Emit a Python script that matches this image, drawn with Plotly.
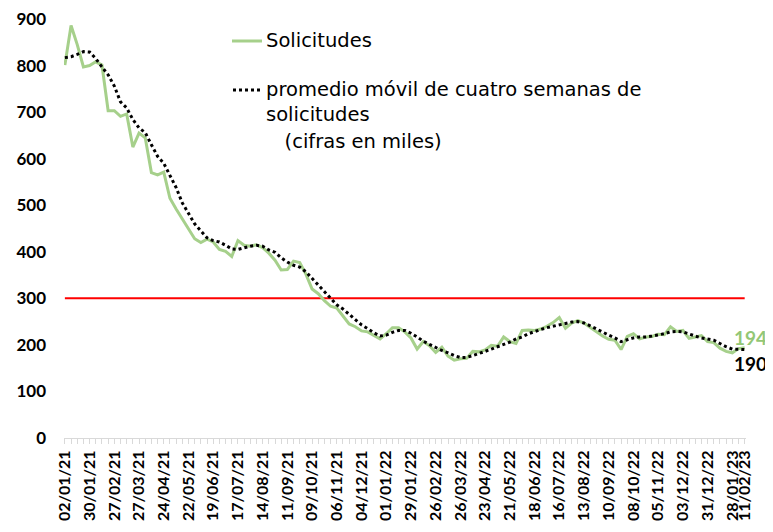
import pandas as pd
import plotly.graph_objects as go

# ---- data (thousands of weekly claims) ----
SOLICITUDES = [801, 886, 845, 797, 800, 808, 801, 703, 703, 691, 696, 625, 655, 645, 570, 565, 571, 515,
               492, 470, 450, 428, 420, 427, 421, 405, 401, 390, 424, 414, 412, 415, 409, 397, 382, 361,
               362, 380, 377, 352, 320, 310, 295, 283, 279, 262, 245, 239, 230, 228, 221, 213, 224, 237,
               237, 228, 215, 191, 207, 198, 184, 195, 176, 167, 170, 171, 186, 185, 189, 199, 197, 217,
               207, 203, 231, 232, 231, 234, 240, 248, 259, 236, 247, 252, 247, 238, 229, 219, 212, 210,
               190, 218, 224, 213, 217, 218, 223, 222, 239, 229, 231, 214, 217, 220, 207, 205, 193, 186,
               183, 192, 194]
PROMEDIO_4S = [817, 819, 824, 830, 829, 815, 797, 780, 756, 722, 709, 684, 666, 656, 630, 605, 590, 563,
               538, 505, 482, 460, 445, 430, 424, 421, 414, 406, 405, 409, 412, 414, 412, 404, 399, 387,
               378, 371, 367, 357, 343, 328, 315, 300, 286, 277, 265, 255, 243, 235, 226, 219, 221, 227,
               231, 231, 225, 217, 208, 201, 194, 188, 183, 177, 173, 173, 177, 181, 186, 191, 196, 202,
               206, 213, 217, 224, 229, 233, 237, 240, 243, 246, 249, 250, 247, 241, 234, 228, 221, 215,
               207, 211, 215, 217, 217, 219, 221, 224, 228, 229, 228, 223, 219, 215, 213, 210, 203, 196,
               191, 190, 190]
UMBRAL = 300
TICK_LABELS = ["02/01/21", "30/01/21", "27/02/21", "27/03/21", "24/04/21", "22/05/21", "19/06/21",
               "17/07/21", "14/08/21", "11/09/21", "09/10/21", "06/11/21", "04/12/21", "01/01/22",
               "29/01/22", "26/02/22", "26/03/22", "23/04/22", "21/05/22", "18/06/22", "16/07/22",
               "13/08/22", "10/09/22", "08/10/22", "05/11/22", "03/12/22", "31/12/22", "28/01/23",
               "11/02/23"]
Y_TICKS = [0, 100, 200, 300, 400, 500, 600, 700, 800, 900]

weeks = pd.date_range("2021-01-02", periods=len(SOLICITUDES), freq="7D")
tickvals = pd.to_datetime(TICK_LABELS, format="%d/%m/%y")

GREEN = "#A6D08B"
GREEN_TXT = "#93C775"

# page body has an 8px default margin: compensate so the plot lands where the reference has it
OFF = 8
W, H = 773, 532
PL, PR, PT, PB = 64, 746, 19, 438          # desired plot-area edges in screen pixels
L, T = PL - OFF, PT - OFF
R = W - (PR - OFF)
B = H - (PB - OFF)
pw, ph = W - L - R, H - T - B
px = lambda v: (v - OFF - L) / pw
py = lambda v: (H - B - (v - OFF)) / ph

fig = go.Figure()
fig.add_trace(go.Scatter(x=[weeks[0], weeks[-1]], y=[UMBRAL, UMBRAL], mode="lines",
                         line=dict(color="#FF0000", width=2), showlegend=False, hoverinfo="skip"))
fig.add_trace(go.Scatter(x=weeks, y=SOLICITUDES, mode="lines", name="Solicitudes",
                         line=dict(color=GREEN, width=3), showlegend=False))
fig.add_trace(go.Scatter(x=weeks, y=PROMEDIO_4S, mode="lines",
                         name="promedio móvil de cuatro semanas de solicitudes",
                         line=dict(color="black", width=3, dash="dot"), showlegend=False))

# end labels
fig.add_annotation(xref="paper", yref="paper", x=px(750), y=py(337), text=str(SOLICITUDES[-1]),
                   showarrow=False, xanchor="center", yanchor="middle",
                   font=dict(family="Lato", size=19, color=GREEN_TXT, weight="bold"))
fig.add_annotation(xref="paper", yref="paper", x=px(750), y=py(363), text=str(PROMEDIO_4S[-1]),
                   showarrow=False, xanchor="center", yanchor="middle",
                   font=dict(family="Lato", size=19, color="black", weight="bold"))

# legend drawn in paper coordinates
fig.add_shape(type="line", xref="paper", yref="paper", x0=px(232), x1=px(262), y0=py(41), y1=py(41),
              line=dict(color=GREEN, width=3))
fig.add_shape(type="line", xref="paper", yref="paper", x0=px(233), x1=px(262), y0=py(90), y1=py(90),
              line=dict(color="black", width=3, dash="dot"))
leg_font = dict(family="DejaVu Sans", size=19.5, color="black")
for txt, yy in [("Solicitudes", 41), ("promedio móvil de cuatro semanas de", 90),
                ("solicitudes", 115), ("\u00a0\u00a0\u00a0(cifras en miles)", 141)]:
    fig.add_annotation(xref="paper", yref="paper", x=px(264), y=py(yy), text=txt, showarrow=False,
                       xanchor="left", yanchor="middle", font=leg_font)

fig.update_xaxes(type="date",
                 range=[weeks[0] - pd.Timedelta(days=1), weeks[-1] + pd.Timedelta(days=1.5)],
                 tickmode="array", tickvals=tickvals, ticktext=TICK_LABELS, tickangle=-90,
                 showline=True, linecolor="#D9D9D9", linewidth=1, showgrid=False, zeroline=False,
                 ticks="outside", ticklen=5, tickcolor="#D9D9D9", ticklabeloverflow="allow",
                 minor=dict(tick0=weeks[0], dtick=7 * 24 * 3600 * 1000, ticks="outside", ticklen=5,
                            tickcolor="#D9D9D9", showgrid=False),
                 tickfont=dict(family="Lato", size=16, color="black", weight="bold"))
fig.update_yaxes(range=[0, 900], tickvals=Y_TICKS, showgrid=False, zeroline=False, showline=False,
                 ticks="", ticklabelstandoff=17, ticklabeloverflow="allow",
                 tickfont=dict(family="Lato", size=17, color="black", weight="bold"))

fig.update_layout(width=W, height=H, margin=dict(l=L, r=R, t=T, b=B, autoexpand=False),
                  paper_bgcolor="white", plot_bgcolor="white", showlegend=False,
                  hovermode=False)

fig.write_html("out.html")
